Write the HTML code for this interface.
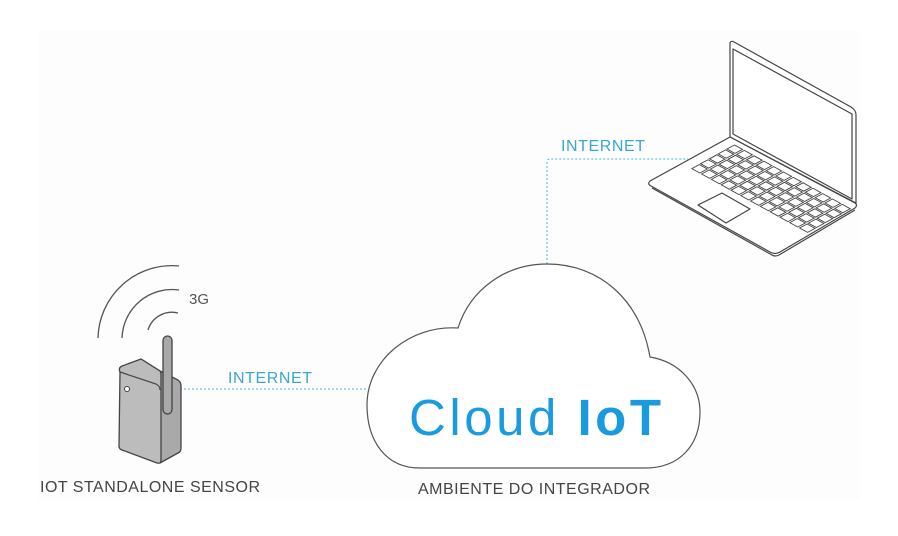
<!DOCTYPE html>
<html><head><meta charset="utf-8"><style>
html,body{margin:0;padding:0;background:#fff;}
svg{display:block;}
text{font-family:"Liberation Sans",sans-serif;}
</style></head><body>
<svg width="898" height="536" viewBox="0 0 898 536" xmlns="http://www.w3.org/2000/svg">
<rect x="0" y="0" width="898" height="536" fill="#fff"/>
<rect x="38" y="30" width="822" height="470" fill="#fdfdfd"/>
<g stroke="#4fb3d6" stroke-width="1" stroke-dasharray="2,2" fill="none">
<line x1="180" y1="389" x2="367" y2="389"/>
<path d="M547 264 L547 162 Q547 159 550 159 L688 159"/>
</g>
<text x="228" y="383" font-size="16" fill="#3aa7cf" textLength="84">INTERNET</text>
<text x="561" y="151" font-size="16" fill="#3aa7cf" textLength="84">INTERNET</text>
<path d="M420 468 C385 468 367 440 367 405 C367 360 410 325 458 328 C470 290 505 264 547 264 C600 264 640 300 650 357 C680 362 700 385 700 412 C700 445 680 468 645 468 Z" fill="#fff" stroke="#555" stroke-width="1.2"/>
<text x="409" y="435" font-size="51" fill="#1a9be0" textLength="252">Cloud <tspan font-weight="bold">IoT</tspan></text>
<text x="418" y="494" font-size="16" fill="#444" textLength="232">AMBIENTE DO INTEGRADOR</text>
<g stroke="#555" stroke-width="1.3" fill="none">
<path d="M148 330 A25 25 0 0 1 178 313"/>
<path d="M122 338 A50 50 0 0 1 179 290"/>
<path d="M98 338 A74 74 0 0 1 179 266"/>
</g>
<text x="189" y="304" font-size="15" fill="#555">3G</text>
<path d="M141 359 L160 371 L178 380 Q181 382 181 386 L181 448 Q181 452 178 453 L160 463 Z" fill="#a9a9a9" stroke="#444" stroke-width="1.3" stroke-linejoin="round"/>
<path d="M120 372 Q118 368 122 366 L141 359 L160 371 Q161 372 161 375 L161 460 Q161 464 157 463 L122 450 Q119 449 119 446 Z" fill="#bcbcbc" stroke="#444" stroke-width="1.3" stroke-linejoin="round"/>
<path d="M120 372 L156 384 Q160 386 160 390" fill="none" stroke="#444" stroke-width="1.2"/>
<circle cx="127" cy="389" r="2.5" fill="#fff" stroke="#444"/>
<rect x="163" y="336" width="9" height="78" rx="4.5" fill="#a9a9a9" stroke="#444" stroke-width="1.3"/>
<text x="40" y="492" font-size="16" fill="#444" textLength="220">IOT STANDALONE SENSOR</text>
<g stroke="#444" stroke-width="1.2" fill="#fff" stroke-linejoin="round">
<path d="M730 44 Q730 40 734 42 L851 107 Q856 110 856 115 L856 203 L730 137 Z"/>
<path d="M733 49 L852 114 L852 199 L733 134 Z" fill="none"/>
<path d="M730 137 L650 181 Q647 184 651 186 L770 252 Q775 255 780 252 L855 208 Q858 205 855 203 Z"/>
<path d="M652 188 L772 255 Q775 257 779 255 L855 210" fill="none"/>
<path d="M698 205 L722 193 L750 209 L726 223 Z"/>
</g>
<g stroke="#444" stroke-width="0.9" fill="#fff" id="kb"></g>
</svg>
<script>
(function(){
var ns="http://www.w3.org/2000/svg",kb=document.getElementById("kb");
var ox=727,oy=149;
for(var r=0;r<5;r++){for(var c=0;c<12;c++){
 var x=ox+c*9.8+r*-8.8,y=oy+c*5.4+r*4.9;
 var p=document.createElementNS(ns,"path");
 p.setAttribute("d","M"+x+" "+y+" l7.5 -4 l8 4.4 l-7.5 4 z");
 kb.appendChild(p);
}}
})();
</script>
</body></html>
